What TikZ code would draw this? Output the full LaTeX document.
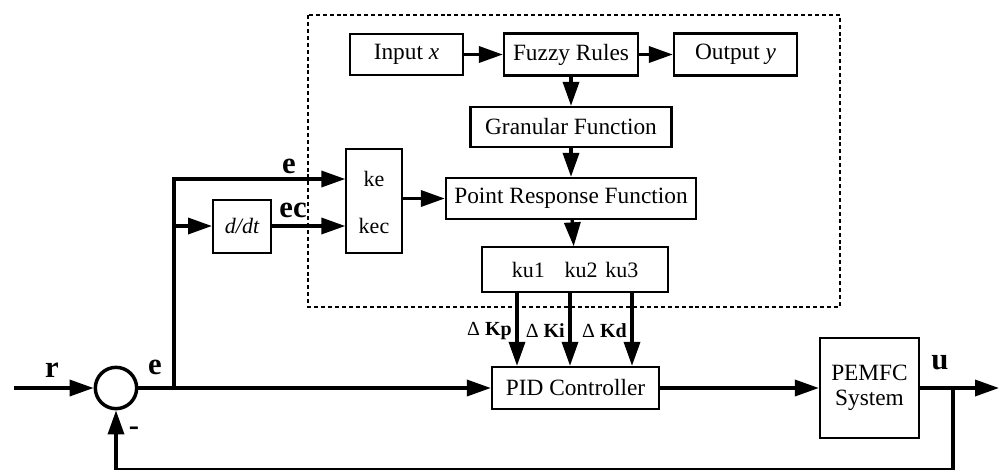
\documentclass[tikz,border=0pt]{standalone}
\usepackage{fontspec}
\setmainfont{Liberation Serif}
\usetikzlibrary{arrows.meta}

\begin{document}
\begin{tikzpicture}[x=0.75pt,y=0.75pt,yscale=-1,xscale=1,
  blk/.style={draw, line width=1.7pt, inner sep=0pt, align=center, font=\fontsize{17.5}{20}\selectfont},
  kblk/.style={draw, line width=1pt, inner sep=0pt, font=\fontsize{16.5}{19}\selectfont},
  ktxt/.style={inner sep=0pt, font=\fontsize{16.5}{19}\selectfont},
  sig/.style={line width=2.6pt, -{Triangle[length=18pt,width=12pt]}},
  lbl/.style={inner sep=0pt, font=\fontsize{23}{26}\selectfont\bfseries},
  dk/.style={inner sep=0pt, anchor=east, font=\fontsize{15}{17}\selectfont}]
\useasboundingbox (0,0) rectangle (1002,469);

%Shape: Dotted frame
\draw [line width=2pt, dash pattern=on 3pt off 2.2pt] (308,15) rectangle (840,307);

%Fuzzy part
\node[blk, minimum width=84.75pt, minimum height=30.75pt] (inx) at (406.5,54.5) {Input \textit{x}};
\node[blk, minimum width=100.5pt, minimum height=31.5pt] (rules) at (571,54.5) {Fuzzy Rules};
\node[blk, minimum width=92.25pt, minimum height=31.5pt] (outy) at (735.5,54.5) {Output \textit{y}};
\node[blk, minimum width=150.75pt, minimum height=30pt] (gran) at (571,127) {Granular Function};
\node[blk, minimum width=187.5pt, minimum height=30.75pt] (prf) at (571,198.5) {Point Response Function};
\node[kblk, minimum width=139.5pt, minimum height=33.75pt] (ku) at (575,269.5) {ku1\hspace{0.9em}ku2\hspace{0.35em}ku3};
\node[kblk, minimum width=42pt, minimum height=78pt] (kbox) at (374,201) {};
\node[ktxt] (ke) at (374,179) {ke};
\node[ktxt] (kec) at (374,226) {kec};
\node[blk, line width=1.5pt, minimum width=43.5pt, minimum height=39.75pt, font=\fontsize{16.5}{19}\selectfont\itshape] (ddt) at (242,226) {d/dt};

%Loop part
\node[draw, circle, line width=2.6pt, minimum size=31pt, inner sep=0pt] (sum) at (116,388) {};
\node[blk, minimum width=125.25pt, minimum height=31.5pt] (pid) at (575.5,388) {PID Controller};
\node[blk, minimum width=74.25pt, minimum height=75pt, font=\fontsize{17.5}{19}\selectfont] (plant) at (869.5,388) {PEMFC\\System};

\coordinate (rin) at (14,388);
\coordinate (br1) at (174,388);
\coordinate (br2) at (174,226);
\coordinate (fb) at (953,388);
\coordinate (fbl) at (953,470);
\coordinate (uout) at (999,388);

%Connectors
\draw[sig] (inx) -- (rules);
\draw[sig] (rules) -- (outy);
\draw[sig] (rules) -- (gran);
\draw[sig] (gran) -- (prf);
\draw[sig] (prf) -- (ku);
\draw[sig] (kbox.east |- prf) -- (prf.west);
\draw[sig] (br1) |- (kbox.west |- ke);
\draw[sig] (br2) -- (ddt.west);
\draw[sig] (ddt.east) -- (kbox.west |- ddt);
\draw[sig] ([xshift=-43.5pt]ku.south) -- ([xshift=-43.5pt]ku.south |- pid.north);
\draw[sig] ([xshift=-3.75pt]ku.south) -- ([xshift=-3.75pt]ku.south |- pid.north);
\draw[sig] ([xshift=42.75pt]ku.south) -- ([xshift=42.75pt]ku.south |- pid.north);
\draw[sig] (rin) -- (sum.west);
\draw[sig] (sum.east) -- (pid.west);
\draw[sig] (pid.east) -- (plant.west);
\draw[sig] (plant.east) -- (uout);
\draw[sig] (fb) -- (fbl) -| (sum.south);

% Text Node
\node[lbl] (lr) at (52,370) {r};
\node[lbl] (le) at (155,367) {e};
\node[lbl] (le2) at (289,166) {e};
\node[lbl] (lec) at (293,210) {ec};
\node[lbl] (lu) at (940,363) {u};
\node[lbl] (lneg) at (134,431) {-};
\node[dk] (dkp) at (512,331) {Δ \textbf{Kp}};
\node[dk] (dki) at (565,331) {Δ \textbf{Ki}};
\node[dk] (dkd) at (627,331) {Δ \textbf{Kd}};

\end{tikzpicture}
\end{document}
